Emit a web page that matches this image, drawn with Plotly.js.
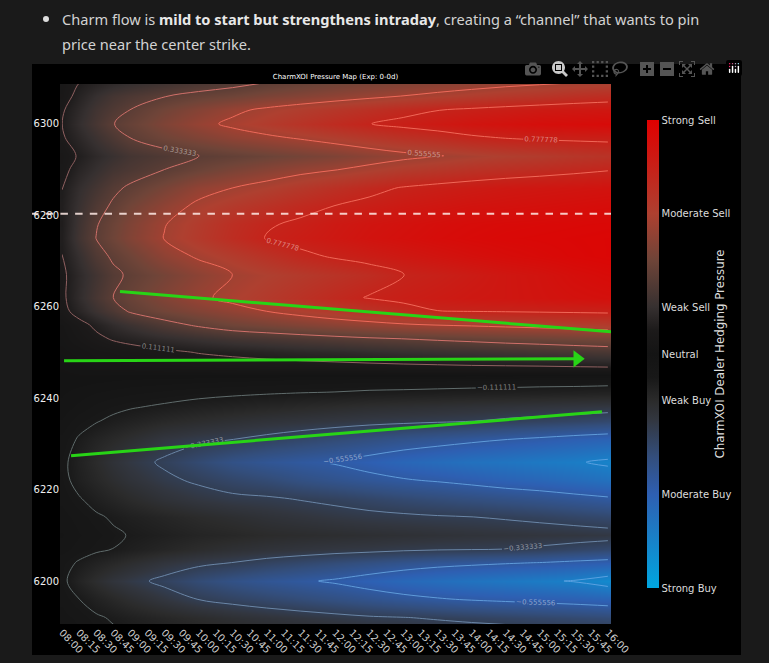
<!DOCTYPE html>
<html><head><meta charset="utf-8">
<script src="https://cdn.plot.ly/plotly-3.0.1.min.js"></script>
<style>
html,body{margin:0;padding:0;background:#1a1a1a;width:769px;height:663px;overflow:hidden}
#note{position:absolute;left:62px;top:7px;width:660px;font:14.6px/25px "Noto Sans",sans-serif;color:#d2d2d2;margin:0}
#note b{font-weight:700;color:#e8e8e8}
#dot{position:absolute;left:43px;top:16px;width:6px;height:6px;border-radius:50%;background:#ddd}
#chart{position:absolute;left:32px;top:64px;width:709px;height:591px;background:#000}
.modebar{top:-7px !important;right:-3px !important}
.modebar-group{padding-left:7px !important}
.modebar-btn{padding:3px 2px !important}
</style></head><body>
<div id="dot"></div>
<p id="note">Charm flow is <b>mild to start but strengthens intraday</b>, creating a “channel” that wants to pin price near the center strike.</p>
<div id="chart"></div>
<script>
const timeLabels=["08:00","08:15","08:30","08:45","09:00","09:15","09:30","09:45","10:00","10:15","10:30","10:45","11:00","11:15","11:30","11:45","12:00","12:15","12:30","12:45","13:00","13:15","13:30","13:45","14:00","14:15","14:30","14:45","15:00","15:15","15:30","15:45","16:00"];
const timeSlots=[0,1,2,3,4,6,8,10,12,14,16,18,20,22,24,26,28,30,32];
const strikes=[6310,6306,6303,6300,6297,6293,6290,6286,6282,6278,6275,6271,6267,6262,6259,6256,6253,6250,6247,6244,6241,6238,6235,6231,6226,6222,6218,6214,6210,6207,6204,6200,6196,6192,6188];
const pressure=[
[.06,.10,.12,.14,.16,.19,.23,.26,.30,.333,.36,.385,.41,.43,.45,.47,.49,.505,.52],
[.07,.14,.20,.25,.28,.33,.37,.40,.44,.47,.50,.53,.56,.59,.62,.65,.67,.70,.72],
[.10,.17,.24,.29,.335,.41,.47,.53,.58,.62,.66,.70,.74,.775,.80,.82,.84,.85,.86],
[.11,.19,.26,.33,.37,.45,.52,.58,.63,.68,.73,.775,.81,.84,.87,.89,.91,.92,.93],
[.10,.16,.22,.28,.335,.40,.45,.50,.535,.57,.61,.65,.69,.72,.76,.785,.80,.805,.81],
[.07,.12,.17,.21,.25,.29,.333,.36,.39,.42,.45,.49,.525,.55,.58,.61,.63,.66,.68],
[.08,.15,.20,.25,.28,.333,.39,.44,.48,.52,.55,.59,.63,.66,.69,.71,.73,.75,.77],
[.11,.19,.25,.31,.35,.43,.51,.555,.60,.65,.70,.745,.785,.81,.83,.85,.86,.87,.88],
[.12,.21,.29,.35,.41,.50,.58,.64,.69,.74,.78,.81,.84,.86,.88,.89,.90,.91,.92],
[.115,.23,.325,.39,.45,.55,.63,.71,.765,.80,.84,.87,.89,.91,.925,.935,.94,.945,.95],
[.12,.24,.335,.40,.46,.56,.64,.72,.785,.82,.85,.88,.90,.92,.935,.945,.95,.955,.96],
[.11,.20,.29,.35,.40,.50,.57,.63,.69,.75,.79,.82,.85,.875,.90,.92,.935,.95,.96],
[.09,.17,.24,.31,.35,.42,.49,.556,.60,.64,.68,.72,.775,.80,.83,.86,.88,.91,.93],
[.09,.18,.26,.333,.38,.46,.53,.59,.64,.69,.74,.785,.81,.83,.85,.86,.875,.89,.90],
[.08,.15,.22,.28,.345,.41,.46,.51,.556,.60,.64,.68,.73,.775,.78,.785,.79,.795,.80],
[.04,.08,.13,.18,.22,.29,.35,.40,.43,.46,.49,.515,.54,.558,.57,.585,.60,.615,.63],
[.03,.06,.09,.12,.14,.18,.21,.24,.26,.28,.30,.32,.335,.35,.365,.38,.39,.405,.42],
[.02,.03,.05,.06,.07,.09,.115,.13,.145,.16,.17,.185,.20,.21,.22,.235,.25,.26,.27],
[.01,.02,.03,.035,.04,.05,.06,.07,.075,.08,.085,.09,.095,.10,.105,.108,.111,.118,.125],
[0,0,-.005,-.01,-.015,-.02,-.025,-.03,-.035,-.04,-.045,-.05,-.05,-.055,-.06,-.06,-.065,-.065,-.07],
[-.01,-.025,-.04,-.05,-.06,-.075,-.09,-.10,-.108,-.115,-.12,-.13,-.135,-.14,-.145,-.15,-.155,-.16,-.165],
[-.02,-.045,-.07,-.09,-.105,-.125,-.145,-.16,-.175,-.19,-.205,-.22,-.23,-.24,-.25,-.26,-.27,-.28,-.29],
[-.04,-.08,-.105,-.13,-.15,-.185,-.21,-.235,-.255,-.27,-.285,-.30,-.31,-.32,-.33,-.35,-.365,-.38,-.40],
[-.07,-.12,-.16,-.19,-.22,-.28,-.31,-.332,-.36,-.39,-.42,-.45,-.48,-.505,-.53,-.553,-.575,-.60,-.62],
[-.09,-.15,-.20,-.25,-.29,-.35,-.41,-.47,-.51,-.54,-.565,-.60,-.64,-.67,-.70,-.72,-.745,-.765,-.80],
[-.085,-.14,-.18,-.22,-.255,-.31,-.35,-.39,-.42,-.46,-.49,-.52,-.545,-.565,-.59,-.62,-.64,-.67,-.70],
[-.07,-.105,-.14,-.17,-.20,-.25,-.285,-.31,-.32,-.34,-.36,-.385,-.41,-.43,-.45,-.47,-.49,-.515,-.54],
[-.05,-.075,-.10,-.12,-.14,-.17,-.20,-.225,-.25,-.27,-.29,-.305,-.315,-.325,-.332,-.345,-.36,-.38,-.40],
[-.035,-.06,-.08,-.10,-.115,-.14,-.165,-.18,-.20,-.21,-.22,-.23,-.24,-.25,-.26,-.265,-.275,-.28,-.29],
[-.05,-.075,-.095,-.112,-.135,-.17,-.205,-.235,-.255,-.27,-.285,-.295,-.31,-.32,-.325,-.333,-.35,-.375,-.40],
[-.08,-.12,-.155,-.185,-.215,-.27,-.31,-.335,-.37,-.40,-.43,-.46,-.49,-.515,-.53,-.545,-.558,-.58,-.60],
[-.09,-.16,-.215,-.265,-.30,-.36,-.42,-.47,-.51,-.54,-.57,-.61,-.65,-.68,-.71,-.735,-.76,-.785,-.84],
[-.07,-.11,-.15,-.185,-.22,-.28,-.335,-.37,-.40,-.43,-.46,-.49,-.52,-.545,-.565,-.58,-.595,-.61,-.63],
[-.05,-.07,-.10,-.12,-.14,-.175,-.205,-.235,-.26,-.28,-.30,-.32,-.33,-.345,-.36,-.375,-.39,-.405,-.42],
[-.03,-.055,-.075,-.095,-.11,-.135,-.16,-.175,-.19,-.20,-.215,-.225,-.235,-.25,-.26,-.265,-.275,-.28,-.29]
];
const pressureTicks=[1,0.6,0.2,0,-0.2,-0.6,-1];
const pressureLabels=["Strong Sell","Moderate Sell","Weak Sell","Neutral","Weak Buy","Moderate Buy","Strong Buy"];
const strikeTicks=[6200,6220,6240,6260,6280,6300];
const centerStrike=6280.3;
const upperLineX=[3.4,32.18], upperLineY=[6263.3,6254.5];
const pinLineX=[0.12,30.2], pinLineY=[6248.2,6248.6];
const lowerLineX=[0.53,31.65], lowerLineY=[6227.4,6237.0];
const colorscale=[[0,"#00a6e0"],[0.2,"#2e5fb2"],[0.28,"#334e7c"],[0.36,"#32363f"],[0.4,"#2b2b2b"],[0.45,"#181818"],[0.5,"#141414"],[0.55,"#1c1a1a"],[0.6,"#363030"],[0.7,"#6e4438"],[0.8,"#ae4030"],[1,"#e00000"]];
const lineScale=[[0,"#5aa0e0"],[0.11,"#5aa0e0"],[0.22,"#6a90c8"],[0.33,"#6a8090"],[0.44,"#5f6a68"],[0.56,"#8a5f5f"],[0.67,"#c07070"],[0.78,"#e87060"],[0.89,"#f06858"],[1,"#f06858"]];
const green="#28d416";
const font='"DejaVu Sans",sans-serif';
const data=[
{type:"heatmap",x:timeSlots,y:strikes,z:pressure,zmin:-1,zmax:1,zsmooth:"best",colorscale:colorscale,hoverinfo:"skip",
 colorbar:{x:1.0653,xanchor:"left",xpad:0,y:0.5,yanchor:"middle",ypad:0,len:0.8667,lenmode:"fraction",thickness:12,outlinewidth:0,
  tickmode:"array",tickvals:pressureTicks,ticktext:pressureLabels,ticks:"",tickfont:{family:font,size:10,color:"#dcdcdc"}}},
{type:"contour",x:timeSlots,y:strikes,z:pressure,zmin:-1,zmax:1,colorscale:lineScale,showscale:false,hoverinfo:"skip",autocontour:false,
 contours:{start:-0.7777778,end:0.7777778,size:0.2222222,coloring:"lines",showlabels:true,labelformat:".6f",labelfont:{family:font,size:7,color:"rgba(255,255,255,0.45)"}},
 line:{width:1}},
{type:"scatter",mode:"lines",x:upperLineX,y:upperLineY,line:{color:green,width:3},hoverinfo:"skip",showlegend:false},
{type:"scatter",mode:"lines",x:pinLineX,y:pinLineY,line:{color:green,width:3},hoverinfo:"skip",showlegend:false},
{type:"scatter",mode:"markers",x:[pinLineX[1]],y:[pinLineY[1]],marker:{symbol:"triangle-right",size:15,color:green},hoverinfo:"skip",showlegend:false},
{type:"scatter",mode:"lines",x:lowerLineX,y:lowerLineY,line:{color:green,width:3},hoverinfo:"skip",showlegend:false}
];
const layout={
 width:709,height:591,margin:{l:28,r:130,t:20,b:31},paper_bgcolor:"#000",plot_bgcolor:"#000",showlegend:false,
 title:{text:"CharmXOI Pressure Map (Exp: 0-0d)",x:0.5,xref:"paper",xanchor:"center",y:0.978,yanchor:"middle",font:{family:font,size:7,color:"#fff"}},
 xaxis:{range:[-0.117,32.18],tickmode:"array",tickvals:timeLabels.map((t,i)=>i),ticktext:timeLabels,tickangle:45,ticks:"",showgrid:false,zeroline:false,showline:false,tickfont:{family:font,size:10,color:"#cfcfcf"}},
 yaxis:{range:[6190.6,6308.7],tickmode:"array",tickvals:strikeTicks,ticks:"",showgrid:false,zeroline:false,showline:false,tickfont:{family:font,size:10,color:"#f0f0f0"}},
 shapes:[{type:"line",xref:"paper",x0:-0.0526,x1:1,yref:"y",y0:centerStrike,y1:centerStrike,line:{color:"rgba(255,235,230,0.85)",width:2,dash:"7.5px,7.2px"}}],
 annotations:[{xref:"paper",yref:"paper",x:1.197,y:0.5,xanchor:"center",yanchor:"middle",textangle:-90,showarrow:false,text:"CharmXOI Dealer Hedging Pressure",font:{family:font,size:11.8,color:"#dcdcdc"}}],
 modebar:{bgcolor:"rgba(0,0,0,0)",color:"#555",activecolor:"#c8c8c8"},
 dragmode:"zoom"
};
Plotly.newPlot("chart",data,layout,{displayModeBar:true,displaylogo:true});
</script>
</body></html>
